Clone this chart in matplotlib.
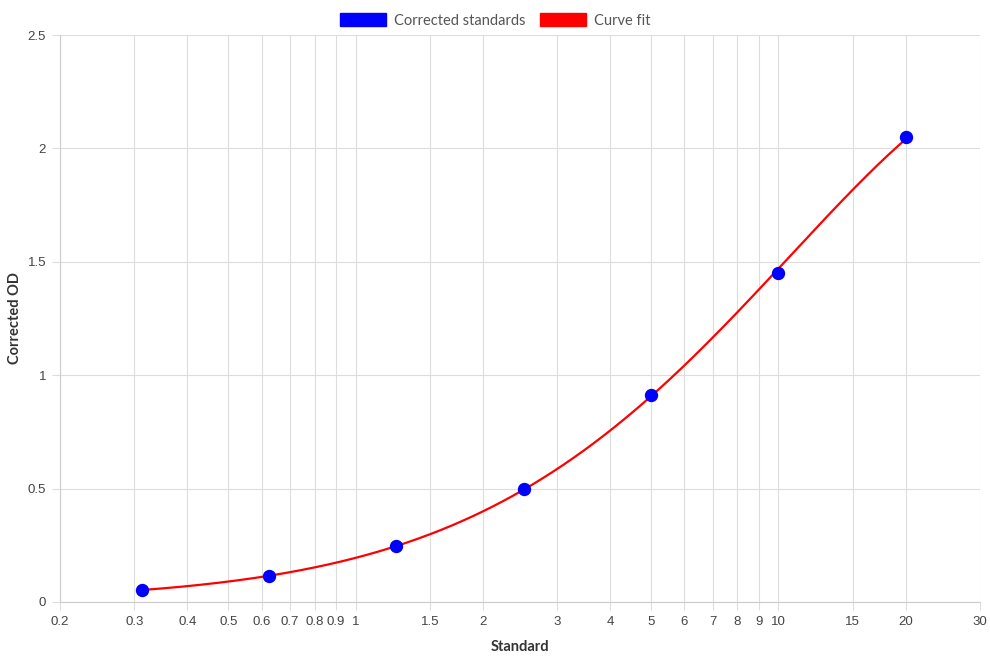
import numpy as np
import matplotlib.pyplot as plt
from matplotlib.patches import Patch
from matplotlib.ticker import FixedLocator, FixedFormatter, NullLocator

# Standards (x) and corrected OD readings (y)
standard = [0.3125, 0.625, 1.25, 2.5, 5, 10, 20]
corrected_od = [0.053, 0.115, 0.247, 0.498, 0.913, 1.451, 2.050]

x_ticks = [0.2, 0.3, 0.4, 0.5, 0.6, 0.7, 0.8, 0.9, 1, 1.5, 2, 3, 4, 5, 6, 7, 8, 9,
           10, 15, 20, 30]
x_tick_labels = ['0.2', '0.3', '0.4', '0.5', '0.6', '0.7', '0.8', '0.9', '1', '1.5',
                 '2', '3', '4', '5', '6', '7', '8', '9', '10', '15', '20', '30']
y_ticks = [0, 0.5, 1, 1.5, 2, 2.5]
y_tick_labels = ['0', '0.5', '1', '1.5', '2', '2.5']

# Curve fit: cubic in log-log space
coef = np.polyfit(np.log10(standard), np.log10(corrected_od), 3)
x_fit = np.logspace(np.log10(standard[0]), np.log10(standard[-1]), 300)
y_fit = 10 ** np.polyval(coef, np.log10(x_fit))

fig = plt.figure(figsize=(9.9, 6.6), dpi=100)
ax = fig.add_axes([60 / 990, 58 / 660, 920 / 990, 567 / 660])

ax.plot(x_fit, y_fit, color='red', lw=1.6, zorder=3)
ax.plot(standard, corrected_od, 'o', color='blue', markersize=8.6, zorder=4,
        clip_on=False)

ax.set_xscale('log')
ax.set_xlim(0.2, 30)
ax.set_ylim(0, 2.5)
ax.xaxis.set_major_locator(FixedLocator(x_ticks))
ax.xaxis.set_major_formatter(FixedFormatter(x_tick_labels))
ax.xaxis.set_minor_locator(NullLocator())
ax.set_yticks(y_ticks)
ax.set_yticklabels(y_tick_labels)

ax.grid(True, color='#dddddd', lw=0.8)
ax.set_axisbelow(True)
for side in ['top', 'right']:
    ax.spines[side].set_visible(False)
for side in ['left', 'bottom']:
    ax.spines[side].set_color('#cccccc')
    ax.spines[side].set_linewidth(0.8)
ax.tick_params(colors='#dddddd', labelcolor='#444444', length=6, width=0.8,
               labelsize=9.5, pad=4)
for lbl in ax.get_xticklabels() + ax.get_yticklabels():
    lbl.set_family('Liberation Sans')

ax.set_xlabel('Standard', fontsize=10.5, fontweight='bold', color='#333333',
              family='Lato', labelpad=9)
ax.set_ylabel('Corrected OD', fontsize=10.5, fontweight='bold', color='#333333',
              family='Lato', labelpad=4)

handles = [Patch(facecolor='blue', edgecolor='blue', label='Corrected standards'),
           Patch(facecolor='red', edgecolor='red', label='Curve fit')]
fig.legend(handles=handles, loc='upper center', bbox_to_anchor=(0.5, 1.0), ncol=2,
           frameon=False, handlelength=3.2, handleheight=1.0, handletextpad=0.5,
           columnspacing=1.0, prop={'family': 'Lato', 'size': 10.5},
           labelcolor='#555555')

fig.savefig('out.png', dpi=100)
